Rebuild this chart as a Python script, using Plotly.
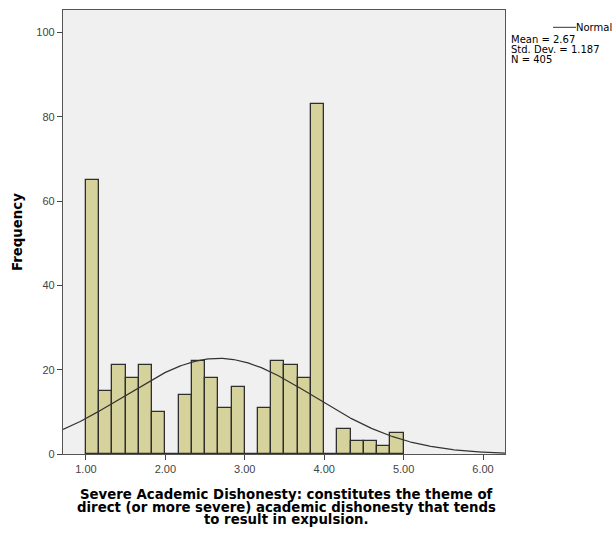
import numpy as np
import plotly.graph_objects as go

# ---- data ----
bin_start = 1.0
bin_width = 1.0 / 6.0
counts = [65, 15, 21, 18, 21, 10, 0, 14, 22, 18, 11, 16, 0,
          11, 22, 21, 18, 83, 0, 6, 3, 3, 2, 5]
mean_val = 2.67
std_val = 1.187
n_val = 405
x_tick_vals = [1, 2, 3, 4, 5, 6]
x_tick_text = ["1.00", "2.00", "3.00", "4.00", "5.00", "6.00"]
y_tick_vals = [0, 20, 40, 60, 80, 100]
title_lines = [
    "Severe Academic Dishonesty: constitutes the theme of",
    "direct (or more severe) academic dishonesty that tends",
    "to result in expulsion.",
]
legend_lines = ["Mean = 2.67", "Std. Dev. = 1.187", "N = 405"]

# ---- derived ----
centers = bin_start + bin_width * (np.arange(len(counts)) + 0.5)
xr = [0.711, 6.277]
xs = np.linspace(xr[0], xr[1], 400)
ys = n_val * bin_width / (std_val * np.sqrt(2 * np.pi)) * np.exp(-0.5 * ((xs - mean_val) / std_val) ** 2)

W, H = 613, 538
ML, MR, MT, MB = 63, 108, 10, 84

fig = go.Figure()
fig.add_trace(go.Bar(
    x=centers, y=counts, width=bin_width,
    marker=dict(color="#d6d29b", line=dict(color="#2e2e2e", width=1.3)),
    showlegend=False, hoverinfo="skip",
))
fig.add_trace(go.Scatter(
    x=xs, y=ys, mode="lines",
    line=dict(color="#333333", width=1.2),
    showlegend=False, hoverinfo="skip",
))

font_fam = "Liberation Sans, Arial, sans-serif"
bold_fam = "DejaVu Sans, sans-serif"
fig.update_layout(
    width=W, height=H,
    margin=dict(l=ML, r=MR, t=MT, b=MB),
    paper_bgcolor="white",
    plot_bgcolor="#f0f0f0",
    bargap=0,
    font=dict(family=font_fam, size=11, color="#444444"),
    xaxis=dict(
        range=xr, tickvals=x_tick_vals, ticktext=x_tick_text,
        ticks="outside", ticklen=5, tickcolor="#444444", tickwidth=1,
        showline=True, linecolor="#555555", linewidth=1.2, mirror=True,
        showgrid=False, zeroline=False,
        tickfont=dict(size=11, color="#444444"),
    ),
    yaxis=dict(
        range=[0, 105.3], tickvals=y_tick_vals,
        ticks="outside", ticklen=5, tickcolor="#444444", tickwidth=1,
        showline=True, linecolor="#555555", linewidth=1.2, mirror=True,
        showgrid=False, zeroline=False,
        tickfont=dict(size=11, color="#444444"),
    ),
)

pw = W - ML - MR
ph = H - MT - MB


def px(xp):
    return (xp - ML) / pw


def py(yp):
    return (H - MB - yp) / ph


annotations = []
annotations.append(dict(
    text="<b>Frequency</b>", x=px(17), y=py(232), xref="paper", yref="paper",
    showarrow=False, textangle=-90, xanchor="center", yanchor="middle",
    font=dict(family=bold_fam, size=13.3, color="#000000"),
))
title_y = [494.5, 507, 519.5]
for line, ty in zip(title_lines, title_y):
    annotations.append(dict(
        text="<b>" + line + "</b>", x=px(286), y=py(ty), xref="paper", yref="paper",
        showarrow=False, xanchor="center", yanchor="middle",
        font=dict(family=bold_fam, size=13.3, color="#000000"),
    ))
leg_y = [39, 49.3, 59.3]
for line, ly in zip(legend_lines, leg_y):
    annotations.append(dict(
        text=line, x=px(509), y=py(ly), xref="paper", yref="paper",
        showarrow=False, xanchor="left", yanchor="middle",
        font=dict(family=bold_fam, size=10, color="#000000"),
    ))
annotations.append(dict(
    text="Normal", x=px(574), y=py(27.3), xref="paper", yref="paper",
    showarrow=False, xanchor="left", yanchor="middle",
    font=dict(family=bold_fam, size=10, color="#000000"),
))
fig.update_layout(annotations=annotations)

fig.add_shape(type="line", xref="paper", yref="paper",
              x0=px(553), x1=px(576), y0=py(27.3), y1=py(27.3),
              line=dict(color="#333333", width=1))

fig.write_html(
    "out.html",
    config={"displayModeBar": False},
    post_script="document.body.style.margin='0';document.body.style.padding='0';",
)
